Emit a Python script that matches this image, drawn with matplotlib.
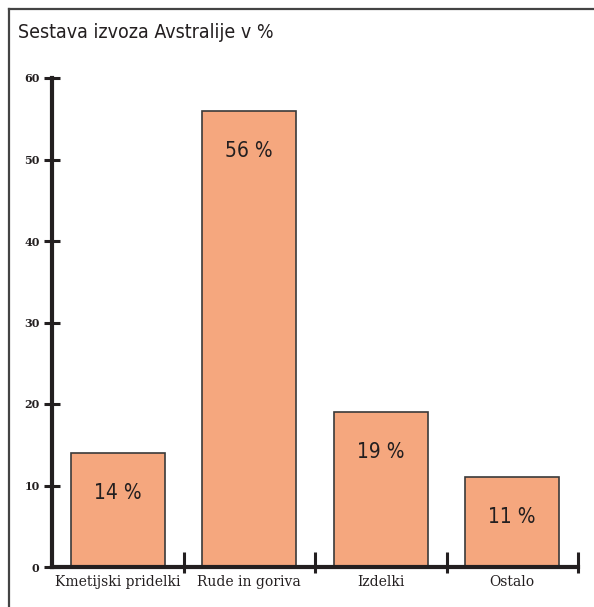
import numpy as np
import matplotlib
matplotlib.use("Agg")
import matplotlib.pyplot as plt
from matplotlib.lines import Line2D
import matplotlib.transforms as mtransforms

# data
categories = ["Kmetijski pridelki", "Rude in goriva", "Izdelki", "Ostalo"]
values = [14, 56, 19, 11]
value_labels = ["14 %", "56 %", "19 %", "11 %"]
yticks = [0, 10, 20, 30, 40, 50, 60]
title = "Sestava izvoza Avstralije v %"

bar_color = "#F5A77E"
dark = "#231f20"

fig = plt.figure(figsize=(5.94, 6.07), dpi=100)
W, H = 594.0, 607.0
ax = fig.add_axes([52 / W, (H - 567) / H, (578 - 52) / W, (567 - 78) / H])

x = np.arange(len(categories))
ax.bar(x, values, width=0.715, color=bar_color, edgecolor="#3a3a3a", linewidth=1.2, zorder=2)

for xi, v, lab in zip(x, values, value_labels):
    ax.text(xi, v - 4.9, lab, ha="center", va="center", fontsize=15,
            family="DejaVu Sans", fontstretch="condensed", fontweight="light", color=dark)

ax.set_xlim(-0.5, 3.5)
ax.set_ylim(0, 60)

# y axis
ax.set_yticks(yticks)
ax.set_yticklabels([str(t) for t in yticks], fontsize=8, family="DejaVu Serif",
                   fontweight="bold", color=dark)
ax.tick_params(axis="y", direction="inout", length=12, width=2.2, color=dark, pad=3)

# x axis: labels at bar centers, separator marks between categories
ax.set_xticks(x)
ax.set_xticklabels(categories, fontsize=10, family="DejaVu Serif", color=dark)
ax.tick_params(axis="x", length=0, pad=6)
trans = mtransforms.blended_transform_factory(ax.transData, ax.transAxes)
for b in np.arange(0.5, len(categories), 1.0):
    ax.plot([b, b], [-6 / 489, 15 / 489], color=dark, lw=2.2, transform=trans,
            clip_on=False, solid_capstyle="butt", zorder=3)

for s in ["top", "right"]:
    ax.spines[s].set_visible(False)
for s in ["left", "bottom"]:
    ax.spines[s].set_linewidth(3)
    ax.spines[s].set_color(dark)

# frame around the figure (top and left only)
fig.add_artist(Line2D([9 / W, 1], [1 - 9 / H, 1 - 9 / H], color="#444444", lw=1.6))
fig.add_artist(Line2D([9 / W, 9 / W], [0, 1 - 9 / H], color="#444444", lw=1.6))

fig.text(18 / W, 1 - 33 / H, title, ha="left", va="center", fontsize=14,
         family="DejaVu Sans", fontstretch="condensed", color=dark)

fig.savefig("out.png", dpi=100)
